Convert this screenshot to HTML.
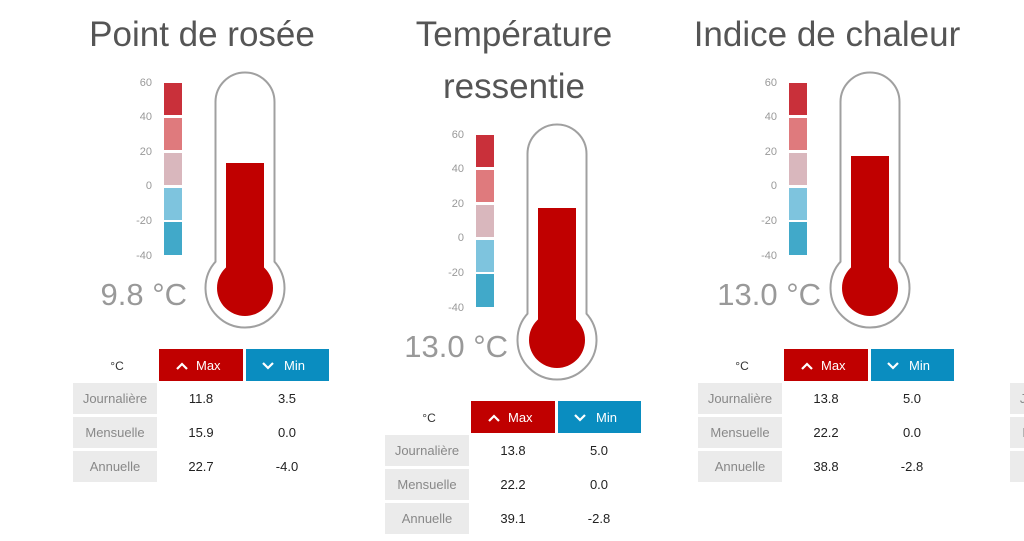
<!DOCTYPE html>
<html><head><meta charset="utf-8"><style>
html,body{margin:0;padding:0;background:#fff;}
svg{display:block;font-family:"Liberation Sans",Arial,sans-serif;}
</style></head><body>
<svg width="1024" height="541" viewBox="0 0 1024 541" xmlns="http://www.w3.org/2000/svg">
<defs>
<g id="bar">
  <rect x="164" y="83" width="18" height="32" fill="#c9303a"/>
  <rect x="164" y="118" width="18" height="32" fill="#df7a7d"/>
  <rect x="164" y="153" width="18" height="32" fill="#d9b7bd"/>
  <rect x="164" y="188" width="18" height="32" fill="#7ec4de"/>
  <rect x="164" y="222" width="18" height="33" fill="#41a9c9"/>
  <g font-size="11" fill="#999" text-anchor="end">
    <text x="152" y="86">60</text><text x="152" y="120">40</text><text x="152" y="155">20</text>
    <text x="152" y="189">0</text><text x="152" y="224">-20</text><text x="152" y="259">-40</text>
  </g>
  <path d="M218,262.7 L218,102 A27,27 0 0 1 272,102 L272,262.7 A37,37 0 1 1 218,262.7 Z" fill="#fff" stroke="#a0a0a0" stroke-width="7"/>
  <path d="M218,262.7 L218,102 A27,27 0 0 1 272,102 L272,262.7 A37,37 0 1 1 218,262.7 Z" fill="#fff" stroke="#fff" stroke-width="3"/>
  <circle cx="245" cy="288" r="28" fill="#c00000"/>
</g>
<g id="tbl">
  <text x="117" y="370" font-size="12" fill="#333" text-anchor="middle">°C</text>
  <rect x="159" y="349" width="84" height="32" fill="#c00000"/>
  <rect x="246" y="349" width="83" height="32" fill="#0a8dc0"/>
  <path d="M177,369 L182,364 L187,369" stroke="#fff" stroke-width="2.2" fill="none"/>
  <text x="196" y="370" font-size="13" fill="#fff">Max</text>
  <path d="M263,363 L268,368 L273,363" stroke="#fff" stroke-width="2.2" fill="none"/>
  <text x="284" y="370" font-size="13" fill="#fff">Min</text>
  <rect x="73" y="383" width="84" height="31" fill="#ebebeb"/>
  <rect x="73" y="417" width="84" height="31" fill="#ebebeb"/>
  <rect x="73" y="451" width="84" height="31" fill="#ebebeb"/>
  <g font-size="13" fill="#888" text-anchor="middle">
    <text x="115" y="403">Journalière</text><text x="115" y="437">Mensuelle</text><text x="115" y="471">Annuelle</text>
  </g>
</g>
</defs>
<g font-size="35" fill="#555" text-anchor="middle">
  <text x="202" y="46">Point de rosée</text>
  <text x="514" y="46">Température</text>
  <text x="514" y="98">ressentie</text>
  <text x="827" y="46">Indice de chaleur</text>
</g>
<!-- panel 1 -->
<use href="#bar"/>
<rect x="226" y="163" width="38" height="126" fill="#c00000"/>
<text x="187" y="305" font-size="31" fill="#999" text-anchor="end">9.8 °C</text>
<use href="#tbl"/>
<g font-size="13" fill="#222" text-anchor="middle"><text x="201" y="403">11.8</text><text x="287" y="403">3.5</text><text x="201" y="437">15.9</text><text x="287" y="437">0.0</text><text x="201" y="471">22.7</text><text x="287" y="471">-4.0</text></g>
<!-- panel 2 -->
<g transform="translate(312,52)">
<use href="#bar"/>
<rect x="226" y="156" width="38" height="133" fill="#c00000"/>
<text x="196" y="305" font-size="31" fill="#999" text-anchor="end">13.0 °C</text>
<use href="#tbl"/>
<g font-size="13" fill="#222" text-anchor="middle"><text x="201" y="403">13.8</text><text x="287" y="403">5.0</text><text x="201" y="437">22.2</text><text x="287" y="437">0.0</text><text x="201" y="471">39.1</text><text x="287" y="471">-2.8</text></g>
</g>
<!-- panel 3 -->
<g transform="translate(625,0)">
<use href="#bar"/>
<rect x="226" y="156" width="38" height="133" fill="#c00000"/>
<text x="196" y="305" font-size="31" fill="#999" text-anchor="end">13.0 °C</text>
<use href="#tbl"/>
<g font-size="13" fill="#222" text-anchor="middle"><text x="201" y="403">13.8</text><text x="287" y="403">5.0</text><text x="201" y="437">22.2</text><text x="287" y="437">0.0</text><text x="201" y="471">38.8</text><text x="287" y="471">-2.8</text></g>
</g>
<!-- panel 4 partial -->
<g transform="translate(937,0)">
<use href="#tbl"/>
</g>
</svg>
</body></html>
